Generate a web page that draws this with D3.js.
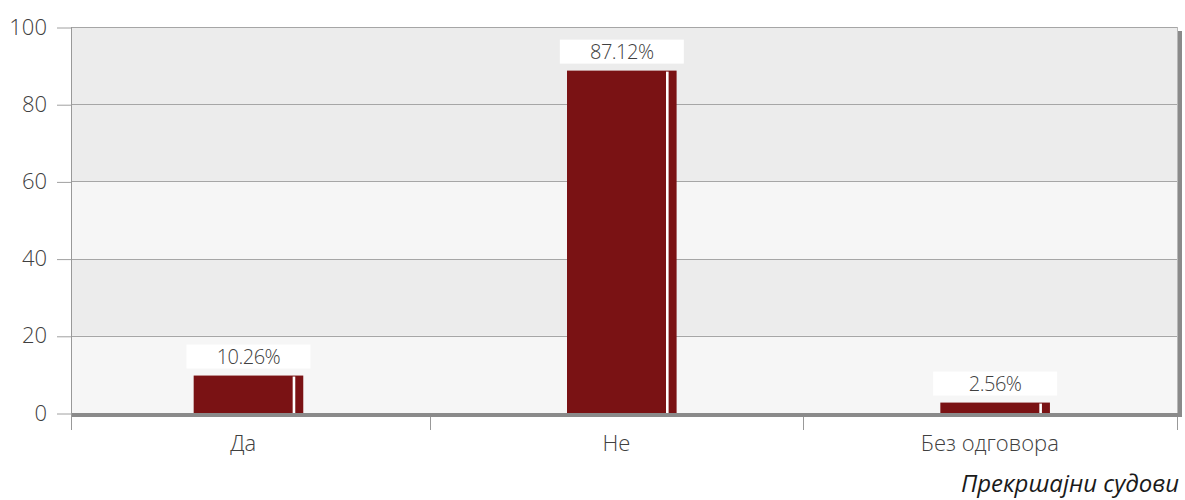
<!DOCTYPE html>
<html>
<head>
<meta charset="utf-8">
<script src="https://cdn.jsdelivr.net/npm/d3@7"></script>
<style>
  html, body { margin: 0; padding: 0; background: #ffffff; }
  svg { display: block; font-family: "Open Sans", "Noto Sans", sans-serif; }
</style>
</head>
<body>
<svg id="chart" width="1185" height="500"></svg>
<script>
// ---- data ----
const categories = ["Да", "Не", "Без одговора"];
const barValues = [9.7, 88.7, 2.7];            // bar heights as drawn
const labelTexts = ["10.26%", "87.12%", "2.56%"]; // printed data labels
const yTicks = [0, 20, 40, 60, 80, 100];
const bandShades = ["#f6f6f6", "#ececec", "#f6f6f6", "#ececec", "#ececec"];
const title = "Прекршајни судови";

// ---- layout ----
const svg = d3.select("#chart");
const plot = { left: 71, right: 1177, top: 27, bottom: 413 };

const y = d3.scaleLinear().domain([0, 100]).range([plot.bottom, plot.top]);
const x = d3.scalePoint().domain(categories).range([56.5, 1176.5]).padding(0.5);
const step = x.step();

// bands
svg.append("g").selectAll("rect").data(bandShades).join("rect")
  .attr("x", plot.left).attr("width", plot.right - plot.left)
  .attr("y", (d, i) => y((i + 1) * 20))
  .attr("height", (d, i) => y(i * 20) - y((i + 1) * 20))
  .attr("fill", d => d);

// shadow right
svg.append("rect").attr("x", plot.right).attr("y", plot.top + 4)
  .attr("width", 5).attr("height", plot.bottom - plot.top).attr("fill", "#8a8a8a");

// gridlines + y ticks
const yAxis = d3.axisLeft(y).tickValues(yTicks).tickSize(14).tickPadding(10).tickFormat(d3.format("d"));
const gy = svg.append("g").attr("transform", `translate(${plot.left},0)`).call(yAxis);
gy.select(".domain").remove();
gy.selectAll(".tick line").attr("stroke", "#a0a0a0").attr("transform", "translate(0,0.5)");
gy.selectAll(".tick text").attr("fill", "#404040").style("font-size", "22px").style("font-weight", 300)
  .style("font-family", "'Open Sans', sans-serif");
svg.append("g").selectAll("line").data(yTicks.filter(d => d > 0)).join("line")
  .attr("x1", plot.left).attr("x2", plot.right)
  .attr("y1", d => Math.round(y(d)) + 0.5).attr("y2", d => Math.round(y(d)) + 0.5)
  .attr("stroke", "#a6a6a6").attr("stroke-width", 1);

// right border
svg.append("line").attr("x1", plot.right + 0.5).attr("x2", plot.right + 0.5)
  .attr("y1", plot.top).attr("y2", plot.bottom).attr("stroke", "#b8b8b8");

// bars
const barW = 99, sideW = 8, gapW = 2.6;
const bars = svg.append("g");
categories.forEach((c, i) => {
  const cx = x(c);
  const top = y(barValues[i]);
  bars.append("rect").attr("x", cx - barW / 2).attr("y", top)
    .attr("width", barW + gapW + sideW).attr("height", plot.bottom + 1 - top)
    .attr("fill", "#7a1214");
  bars.append("rect").attr("x", cx + barW / 2).attr("y", top + 1)
    .attr("width", gapW).attr("height", plot.bottom + 1 - top - 1)
    .attr("fill", "#ffffff");
  const bc = cx - barW / 2 + (barW + gapW + sideW) / 2;
  bars.append("rect").attr("x", bc - 62).attr("y", top - 7 - 24)
    .attr("width", 124).attr("height", 24).attr("fill", "#ffffff");
  bars.append("text").attr("x", bc).attr("y", top - 7 - 4.5)
    .attr("text-anchor", "middle").attr("fill", "#404040")
    .style("font-size", "20px").style("font-weight", 300).style("letter-spacing", "-0.5px")
    .text(labelTexts[i]);
});

// bottom floor shadow
svg.append("rect").attr("x", plot.left).attr("y", plot.bottom)
  .attr("width", plot.right - plot.left + 5).attr("height", 4).attr("fill", "#8a8a8a");

// y axis line
svg.append("line").attr("x1", plot.left + 0.5).attr("x2", plot.left + 0.5)
  .attr("y1", plot.top).attr("y2", 430).attr("stroke", "#999999");

// x category ticks (band boundaries)
const boundaries = categories.slice(1).map(c => x(c) - step / 2).concat([plot.right]);
svg.append("g").selectAll("line").data(boundaries).join("line")
  .attr("x1", d => Math.round(d) + 0.5).attr("x2", d => Math.round(d) + 0.5)
  .attr("y1", plot.bottom + 4).attr("y2", 430).attr("stroke", "#999999");

// x labels
svg.append("g").selectAll("text").data(categories).join("text")
  .attr("x", d => x(d)).attr("y", 451)
  .attr("text-anchor", "middle").attr("fill", "#404040")
  .style("font-size", "22px").style("font-weight", 300)
  .text(d => d);

// title
svg.append("text").attr("x", 1179).attr("y", 492).attr("text-anchor", "end")
  .attr("fill", "#1a1a1a").style("font-size", "24px").style("font-style", "italic").style("font-weight", 400)
  .text(title);
</script>
</body>
</html>
